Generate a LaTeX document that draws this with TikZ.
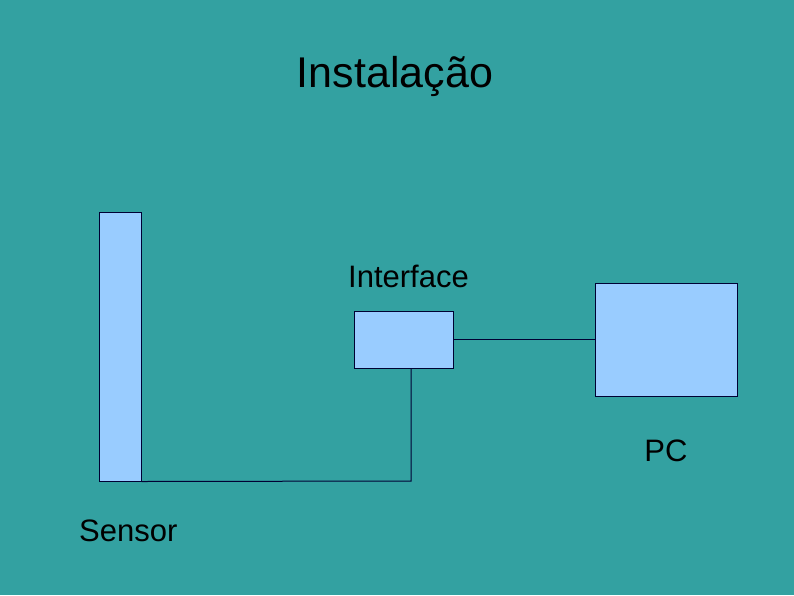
\documentclass[tikz,border=0pt]{standalone}
\usepackage{fontspec}
\setmainfont{Liberation Sans}
\usetikzlibrary{positioning}
\definecolor{slideBg}{RGB}{51,161,161}
\definecolor{boxFill}{RGB}{153,204,255}
\definecolor{boxLine}{RGB}{0,0,51}
\tikzset{Box/.style={%
    shape=rectangle,%
    draw=boxLine,%
    fill=boxFill,%
    line width=1pt,%
    inner sep=0pt,%
}}
\tikzset{Label/.style={%
    inner sep=0pt,%
    text=black,%
    font=\fontsize{31}{37}\selectfont,%
}}
\tikzset{Wire/.style={%
    draw=boxLine,%
    line width=1pt,%
}}

\begin{document}
\begin{tikzpicture}[x=1pt,y=-1pt]
    \fill[slideBg] (0,0) rectangle (794,595);
    \useasboundingbox (0,0) rectangle (794,595);

    \node[Box, minimum width=42pt, minimum height=269pt] (sensor) at (120,346.5) {};
    \node[Box, minimum width=99pt, minimum height=57pt] (iface) at (403.5,339.5) {};
    \node[Box, minimum width=142pt, minimum height=113pt] (pc) at (666,339.5) {};
    \coordinate (bend) at (411,481);

    \node[Label, font=\fontsize{43}{50}\selectfont, anchor=base] (title) at (395,87) {Instalação};
    \node[Label, anchor=base west] (ifaceLabel) at (348,287) {Interface};
    \node[Label, below=43pt of pc] (pcLabel) {PC};
    \node[Label, anchor=base west] (sensorLabel) at (79,541) {Sensor};

    \draw[Wire] (iface.east) -- (pc.west);
    \draw[Wire] (iface.south -| bend) -- (bend) -- (sensor.south east);
\end{tikzpicture}
\end{document}
